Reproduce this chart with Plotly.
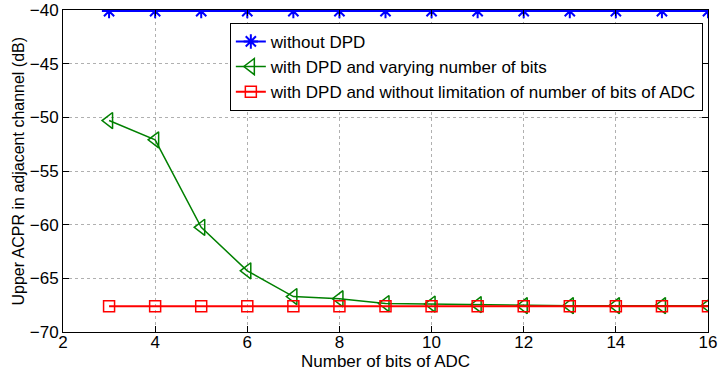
import plotly.graph_objects as go

bits = [3, 4, 5, 6, 7, 8, 9, 10, 11, 12, 13, 14, 15, 16]
without_dpd = [-40.1] * 14
dpd_varying = [-50.3, -52.1, -60.25, -64.3, -66.7, -66.9, -67.35, -67.4, -67.45, -67.55, -67.55, -67.55, -67.55, -67.55]
dpd_unlimited = [-67.6] * 14

names = ["without DPD", "with DPD and varying number of bits",
         "with DPD and without limitation of number of bits of ADC"]
x_title = "Number of bits of ADC"
y_title = "Upper ACPR in adjacent channel (dB)"

fig = go.Figure()
fig.add_trace(go.Scatter(x=bits, y=without_dpd, name=names[0], mode="lines+markers",
                         line=dict(color="#0000ff", width=2),
                         marker=dict(symbol="asterisk-open", size=12, color="#0000ff",
                                     line=dict(color="#0000ff", width=2))))
fig.add_trace(go.Scatter(x=bits, y=dpd_varying, name=names[1], mode="lines+markers",
                         line=dict(color="#008000", width=1.5),
                         marker=dict(symbol="triangle-left-open", size=14, color="#008000",
                                     line=dict(color="#008000", width=1.5))))
fig.add_trace(go.Scatter(x=bits, y=dpd_unlimited, name=names[2], mode="lines+markers",
                         line=dict(color="#ff0000", width=2),
                         marker=dict(symbol="square-open", size=11, color="#ff0000",
                                     line=dict(color="#ff0000", width=1.5))))

axis_common = dict(showline=True, linecolor="black", linewidth=1, mirror="ticks",
                   ticks="inside", ticklen=6, tickcolor="black", automargin=False,
                   showgrid=True, gridcolor="#b0b0b0", griddash="dot", gridwidth=1,
                   zeroline=False, tickfont=dict(size=17, color="black"))

fig.update_layout(
    width=719, height=372,
    margin=dict(l=63, r=11, t=10, b=40),
    paper_bgcolor="white", plot_bgcolor="white",
    font=dict(family="Liberation Sans, Arial, sans-serif", size=17, color="black"),
    showlegend=True,
    legend=dict(x=0.992, y=0.96, xanchor="right", yanchor="top",
                bgcolor="white", bordercolor="black", borderwidth=1,
                font=dict(size=17), tracegroupgap=0, itemwidth=30),
    xaxis=dict(range=[2, 16], dtick=2, ticklabelstandoff=-5, **axis_common),
    yaxis=dict(range=[-70, -40], dtick=5, **axis_common),
    annotations=[
        dict(text=x_title, xref="paper", yref="paper", x=0.5, y=-0.093,
             xanchor="center", yanchor="middle", showarrow=False, font=dict(size=17)),
        dict(text=y_title, xref="paper", yref="paper", x=-0.069, y=0.5, textangle=-90,
             xanchor="center", yanchor="middle", showarrow=False, font=dict(size=16)),
    ],
)

fig.write_html("out.html", config={"displayModeBar": False},
               post_script="document.body.style.margin='0';")
